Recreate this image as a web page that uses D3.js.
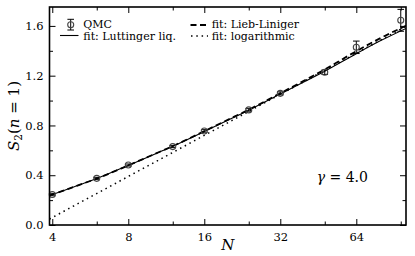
<!DOCTYPE html>
<html>
<head>
<meta charset="utf-8">
<script src="https://cdn.jsdelivr.net/npm/d3@7"></script>
<style>
  html, body { margin: 0; padding: 0; background: #fff; }
  svg { display: block; }
  text { font-family: "DejaVu Serif", serif; fill: #000; }
</style>
</head>
<body>
<svg id="chart" width="415" height="256"></svg>
<script>
// QMC data points (N, S2, error)
const qmcN   = [4, 6, 8, 12, 16, 24, 32, 48, 64, 96];
const qmcS   = [0.245, 0.375, 0.482, 0.630, 0.756, 0.925, 1.058, 1.228, 1.428, 1.645];
const qmcErr = [0.010, 0.008, 0.008, 0.008, 0.010, 0.010, 0.012, 0.018, 0.050, 0.088];

// fit curves
const fitN  = [3.9, 4, 5, 6, 8, 10, 12, 16, 20, 24, 32, 40, 48, 64, 80, 100.7];
const lutS  = [0.238, 0.245, 0.315, 0.373, 0.479, 0.563, 0.633, 0.752, 0.846, 0.923, 1.052, 1.153, 1.236, 1.377, 1.482, 1.580];
const liebS = [0.238, 0.245, 0.315, 0.373, 0.479, 0.564, 0.634, 0.754, 0.849, 0.927, 1.059, 1.163, 1.250, 1.397, 1.503, 1.602];
const logN  = [3.9, 8, 16, 32, 64, 100.7];
const logS  = [0.048, 0.390, 0.720, 1.050, 1.380, 1.597];

const xMajor = [4, 8, 16, 32, 64];
const xMinor = [6, 12, 24, 48, 96];
const yMajor = [0.0, 0.4, 0.8, 1.2, 1.6];
const yMinor = [0.2, 0.6, 1.0, 1.4];

const legendLabels = ["QMC", "fit: Luttinger liq.", "fit: Lieb-Liniger", "fit: logarithmic"];

const W = 415, H = 256;
const margin = { top: 7, right: 9, bottom: 31, left: 49.5 };
const innerW = W - margin.left - margin.right;
const innerH = H - margin.top - margin.bottom;

const x = d3.scaleLog().base(2).domain([3.9, 100.7]).range([0, innerW]);
const y = d3.scaleLinear().domain([0, 1.752]).range([innerH, 0]);

const svg = d3.select("#chart");
svg.append("defs").append("clipPath").attr("id", "plot-clip")
  .append("rect").attr("width", innerW).attr("height", innerH);

const root = svg.append("g").attr("transform", `translate(${margin.left},${margin.top})`);

// inward ticks on all four sides
function tickAxis(axis, vals, len, fmt) {
  return axis.tickValues(vals).tickSizeInner(-len).tickSizeOuter(0).tickFormat(fmt);
}
const noLabel = () => "";
const fmtY = d3.format(".1f");
const fmtX = d3.format("d");

const axes = [
  [d3.axisBottom(x), xMajor, 6, fmtX, `translate(0,${innerH})`, 8],
  [d3.axisBottom(x), xMinor, 3.5, noLabel, `translate(0,${innerH})`, 8],
  [d3.axisTop(x), xMajor, 6, noLabel, null, 3],
  [d3.axisTop(x), xMinor, 3.5, noLabel, null, 3],
  [d3.axisLeft(y), yMajor, 6, fmtY, null, 6],
  [d3.axisLeft(y), yMinor, 3.5, noLabel, null, 6],
  [d3.axisRight(y), yMajor, 6, noLabel, `translate(${innerW},0)`, 3],
  [d3.axisRight(y), yMinor, 3.5, noLabel, `translate(${innerW},0)`, 3],
];
axes.forEach(([ax, vals, len, fmt, tr, pad]) => {
  const g = root.append("g").call(tickAxis(ax, vals, len, fmt).tickPadding(pad));
  if (tr) g.attr("transform", tr);
  g.select(".domain").remove();
  g.selectAll(".tick line").attr("stroke", "#000").attr("stroke-width", 1);
  g.selectAll(".tick text").style("font-family", "DejaVu Serif, serif")
    .style("font-size", "11.5px").attr("fill", "#000");
});

const clipped = root.append("g").attr("clip-path", "url(#plot-clip)");

const line = d3.line().x(d => x(d[0])).y(d => y(d[1])).curve(d3.curveMonotoneX);

clipped.append("path")
  .attr("d", line(logN.map((n, i) => [n, logS[i]])))
  .attr("fill", "none").attr("stroke", "#000").attr("stroke-width", 1.5)
  .attr("stroke-dasharray", "1.5,3.8");
clipped.append("path")
  .attr("d", line(liebS.map((s, i) => [fitN[i], s])))
  .attr("fill", "none").attr("stroke", "#000").attr("stroke-width", 1.8)
  .attr("stroke-dasharray", "6,3.5");
clipped.append("path")
  .attr("d", line(lutS.map((s, i) => [fitN[i], s])))
  .attr("fill", "none").attr("stroke", "#000").attr("stroke-width", 1.1);

// QMC points with error bars
const pts = root.selectAll(".qmc").data(qmcN.map((n, i) => ({ n, s: qmcS[i], e: qmcErr[i] })))
  .enter().append("g").attr("class", "qmc");
pts.append("line")
  .attr("x1", d => x(d.n)).attr("x2", d => x(d.n))
  .attr("y1", d => y(d.s - d.e)).attr("y2", d => y(d.s + d.e))
  .attr("stroke", "#000").attr("stroke-width", 1);
[1, -1].forEach(sg => {
  pts.append("line")
    .attr("x1", d => x(d.n) - 3.3).attr("x2", d => x(d.n) + 3.3)
    .attr("y1", d => y(d.s + sg * d.e)).attr("y2", d => y(d.s + sg * d.e))
    .attr("stroke", "#000").attr("stroke-width", 1);
});
pts.append("circle")
  .attr("cx", d => x(d.n)).attr("cy", d => y(d.s)).attr("r", 3)
  .attr("fill", "none").attr("stroke", "#444").attr("stroke-width", 1.1);

// frame
root.append("rect").attr("width", innerW).attr("height", innerH)
  .attr("fill", "none").attr("stroke", "#000").attr("stroke-width", 1.6);

// legend (absolute page coords)
const leg = svg.append("g").style("font-size", "11px");
leg.append("line").attr("x1", 70.7).attr("x2", 70.7).attr("y1", 19.3).attr("y2", 30).attr("stroke", "#000");
leg.append("line").attr("x1", 67.4).attr("x2", 74).attr("y1", 19.3).attr("y2", 19.3).attr("stroke", "#000");
leg.append("line").attr("x1", 67.4).attr("x2", 74).attr("y1", 30).attr("y2", 30).attr("stroke", "#000");
leg.append("circle").attr("cx", 70.7).attr("cy", 24.7).attr("r", 3)
  .attr("fill", "none").attr("stroke", "#444").attr("stroke-width", 1.1);
leg.append("text").attr("x", 83.3).attr("y", 28.3).text(legendLabels[0]);

leg.append("line").attr("x1", 60).attr("x2", 78.5).attr("y1", 35.5).attr("y2", 35.5)
  .attr("stroke", "#000").attr("stroke-width", 1.1);
leg.append("text").attr("x", 83.3).attr("y", 39.6).text(legendLabels[1]);

leg.append("line").attr("x1", 190.5).attr("x2", 207.5).attr("y1", 25).attr("y2", 25)
  .attr("stroke", "#000").attr("stroke-width", 1.8).attr("stroke-dasharray", "6,3.5");
leg.append("text").attr("x", 211.7).attr("y", 28.3).text(legendLabels[2]);

leg.append("line").attr("x1", 191).attr("x2", 208).attr("y1", 36).attr("y2", 36)
  .attr("stroke", "#000").attr("stroke-width", 1.5).attr("stroke-dasharray", "1.5,3.8");
leg.append("text").attr("x", 211.7).attr("y", 39.6).text(legendLabels[3]);

// gamma annotation
const gam = svg.append("text").attr("x", 316.7).attr("y", 182).style("font-size", "14px");
gam.append("tspan").style("font-style", "italic").text("γ");
gam.append("tspan").text(" = 4.0");

// axis labels
svg.append("text").attr("x", margin.left + innerW / 2).attr("y", 250)
  .attr("text-anchor", "middle").style("font-size", "15px").style("font-style", "italic").text("N");

const yl = svg.append("text").attr("transform", `translate(19,${margin.top + innerH / 2}) rotate(-90)`)
  .attr("text-anchor", "middle").style("font-size", "15px");
yl.append("tspan").style("font-style", "italic").text("S");
yl.append("tspan").attr("dy", 3).style("font-size", "10.5px").text("2");
yl.append("tspan").attr("dy", -3).text("(");
yl.append("tspan").style("font-style", "italic").text("n");
yl.append("tspan").text(" = 1)");
</script>
</body>
</html>
